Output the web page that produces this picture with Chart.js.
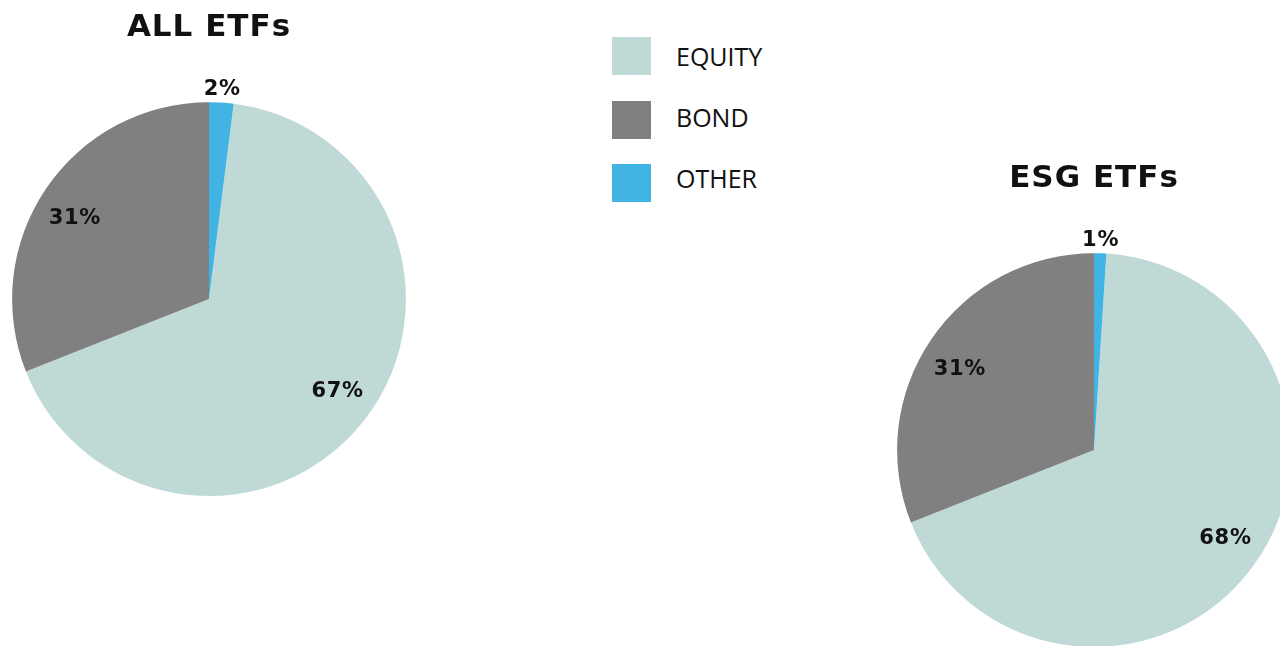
<!DOCTYPE html>
<html>
<head>
<meta charset="utf-8">
<script src="https://cdn.jsdelivr.net/npm/chart.js@4.4.0/dist/chart.umd.min.js"></script>
<style>
  html, body { margin:0; padding:0; width:1280px; height:646px; overflow:hidden; background:#fff; }
  .wrap { position:absolute; width:418px; height:496px; }
  #legend { position:absolute; left:612px; top:37px; font-family:"Open Sans", sans-serif; font-size:25px; color:#111; }
  .sw { position:absolute; left:0; width:39px; height:38px; }
  .lb { position:absolute; left:64px; line-height:38px; white-space:nowrap; }
</style>
</head>
<body>
<div class="wrap" style="left:0px; top:0px;"><canvas id="c1" width="418" height="496"></canvas></div>
<div class="wrap" style="left:885px; top:151px;"><canvas id="c2" width="418" height="496"></canvas></div>
<div id="legend"></div>
<script>
const categories = ['EQUITY', 'BOND', 'OTHER'];
const allEtfs = [67, 31, 2];
const esgEtfs = [68, 31, 1];
const titles = ['ALL ETFs', 'ESG ETFs'];
const colors = ['#BFD9D6', '#808080', '#41B4E3'];

// HTML legend
const leg = document.getElementById('legend');
categories.forEach((c, i) => {
  const sw = document.createElement('div');
  sw.className = 'sw';
  sw.style.top = (i * 63.5) + 'px';
  sw.style.background = colors[i];
  leg.appendChild(sw);
  const lb = document.createElement('div');
  lb.className = 'lb';
  lb.style.top = (i * 61.2) + 'px';
  lb.textContent = c;
  leg.appendChild(lb);
});

const spacingPlugin = {
  id: 'spacing',
  beforeDraw(chart) { chart.ctx.letterSpacing = '1px'; }
};

const labelPlugin = {
  id: 'pctLabels',
  afterDatasetsDraw(chart) {
    const ctx = chart.ctx;
    const meta = chart.getDatasetMeta(0);
    const data = chart.data.datasets[0].data;
    const total = data.reduce((a, b) => a + b, 0);
    ctx.save();
    ctx.letterSpacing = '0.7px';
    ctx.font = 'bold 21px "DejaVu Sans", Verdana, sans-serif';
    ctx.fillStyle = '#111';
    ctx.textAlign = 'center';
    ctx.textBaseline = 'middle';
    meta.data.forEach((arc, i) => {
      const p = arc.getProps(['x', 'y', 'startAngle', 'endAngle', 'outerRadius'], true);
      const share = data[i] / total;
      let mid = (p.startAngle + p.endAngle) / 2;
      let d;
      if (share < 0.05) { d = p.outerRadius * 1.075; }
      else { d = p.outerRadius * 0.8; mid -= 0.045; }
      ctx.fillText(data[i] + '%', p.x + Math.cos(mid) * d, p.y + Math.sin(mid) * d + 2);
    });
    ctx.restore();
  }
};

function makePie(id, values, title) {
  const total = values.reduce((a, b) => a + b, 0);
  return new Chart(document.getElementById(id), {
    type: 'pie',
    data: {
      labels: categories,
      datasets: [{ data: values, backgroundColor: colors, borderWidth: 0 }]
    },
    options: {
      responsive: false,
      animation: false,
      rotation: values[2] / total * 360,
      layout: { padding: { left: 12, right: 12, top: 0, bottom: 0 } },
      plugins: {
        legend: { display: false },
        tooltip: { enabled: false },
        title: {
          display: true,
          text: title,
          color: '#111',
          font: { family: '"DejaVu Sans", Verdana, sans-serif', size: 31, weight: 'bold', lineHeight: 1.2 },
          padding: { top: 9, bottom: 56 }
        }
      }
    },
    plugins: [spacingPlugin, labelPlugin]
  });
}

makePie('c1', allEtfs, titles[0]);
makePie('c2', esgEtfs, titles[1]);
</script>
</body>
</html>
